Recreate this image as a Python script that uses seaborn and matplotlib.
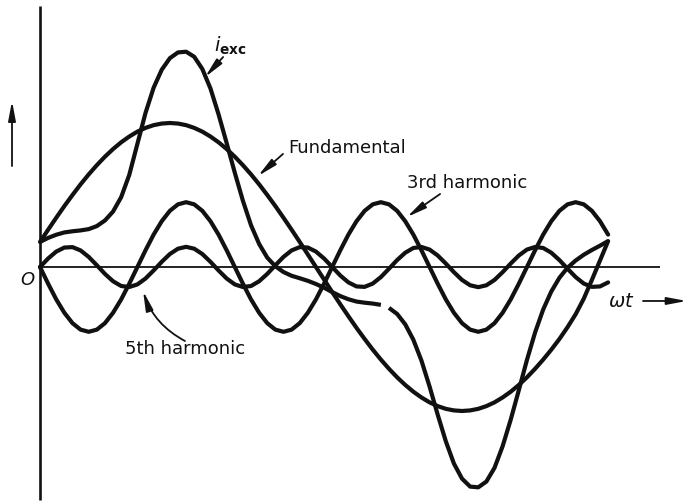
import matplotlib
matplotlib.use("Agg")
import matplotlib.pyplot as plt
import seaborn as sns
import pandas as pd

# Electrical angle wt (degrees) at which each waveform is tabulated
THETA = list(range(0, 355, 5))

# Instantaneous values, in per cent of the fundamental's peak
IEXC = [17.4, 20.2, 22.4, 24.0, 24.8, 25.4, 26.3, 28.4, 32.3, 38.5,
        48.5, 64.0, 85.5, 107.0, 124.5, 137.0, 145.0, 149.0, 149.5, 146.0,
        137.5, 124.0, 106.0, 86.0, 65.5, 46.0, 29.0, 16.0, 6.5, 0.5,
        -3.5, -6.1, -7.8, -9.6, -11.8, -14.4, -17.4, -20.2, -22.4, -24.0,
        -24.8, -25.4, -26.3, -28.4, -32.6, -39.8, -50.5, -65.0, -83.0, -102.5,
        -121.0, -136.5, -147.0, -152.5, -153.0, -149.0, -139.5, -124.5, -106.0, -85.5,
        -64.5, -45.5, -29.5, -17.0, -7.5, -0.5, 4.5, 8.5, 11.8, 14.8,
        18.0]

FUNDAMENTAL = [17.4, 25.9, 34.2, 42.3, 50.0, 57.4, 64.3, 70.7, 76.6, 81.9,
               86.6, 90.6, 94.0, 96.6, 98.5, 99.6, 100.0, 99.6, 98.5, 96.6,
               94.0, 90.6, 86.6, 81.9, 76.6, 70.7, 64.3, 57.4, 50.0, 42.3,
               34.2, 25.9, 17.4, 8.7, 0.0, -8.7, -17.4, -25.9, -34.2, -42.3,
               -50.0, -57.4, -64.3, -70.7, -76.6, -81.9, -86.6, -90.6, -94.0, -96.6,
               -98.5, -99.6, -100.0, -99.6, -98.5, -96.6, -94.0, -90.6, -86.6, -81.9,
               -76.6, -70.7, -64.3, -57.4, -50.0, -41.8, -32.8, -22.0, -9.0, 4.5,
               18.0]

THIRD = [0, -11.6, -22.5, -31.8, -39.0, -43.5, -45.0, -43.5, -39.0, -31.8, -22.5, -11.6,
         0, 11.6, 22.5, 31.8, 39.0, 43.5, 45.0, 43.5, 39.0, 31.8, 22.5, 11.6,
         0, -11.6, -22.5, -31.8, -39.0, -43.5, -45.0, -43.5, -39.0, -31.8, -22.5, -11.6,
         0, 11.6, 22.5, 31.8, 39.0, 43.5, 45.0, 43.5, 39.0, 31.8, 22.5, 11.6,
         0, -11.6, -22.5, -31.8, -39.0, -43.5, -45.0, -43.5, -39.0, -31.8, -22.5, -11.6,
         0, 11.6, 22.5, 31.8, 39.0, 43.5, 45.0, 43.5, 39.0, 31.8, 22.5]

FIFTH = [0, 5.9, 10.7, 13.5, 13.8, 11.5, 7.0, 1.2, -4.8, -9.9, -13.2, -13.9, -12.1, -8.0, -2.4,
         3.6, 9.0, 12.7, 14.0, 12.7, 9.0, 3.6, -2.4, -8.0, -12.1, -13.9, -13.2, -9.9, -4.8,
         1.2, 7.0, 11.5, 13.8, 13.5, 10.7, 5.9, 0, -5.9, -10.7, -13.5, -13.8, -11.5, -7.0, -1.2,
         4.8, 9.9, 13.2, 13.9, 12.1, 8.0, 2.4, -3.6, -9.0, -12.7, -14.0, -12.7, -9.0, -3.6,
         2.4, 8.0, 12.1, 13.9, 13.2, 9.9, 4.8, -1.2, -7.0, -11.5, -13.8, -13.5, -10.7]

# The i_exc trace is drawn with a short break between these angles
IEXC_BREAK = (210, 215)

sns.set_theme(style="white")
plt.rcParams["font.family"] = ["DejaVu Sans"]

INK = "#111111"
CURVE_LW = 3.0

fig = plt.figure(figsize=(6.87, 5.02), dpi=100)
ax = fig.add_axes([0, 0, 1, 1])
ax.set_xlim(-24.65, 398.6)
ax.set_ylim(-162.5, 186.1)

df = pd.DataFrame({"theta": THETA, "iexc": IEXC, "fund": FUNDAMENTAL,
                   "third": THIRD, "fifth": FIFTH})

# coordinate axes
ax.plot([0, 0], [181.5, -161.5], color=INK, lw=1.9, solid_capstyle="butt")
ax.plot([0, 382], [0, 0], color=INK, lw=1.3, solid_capstyle="butt")

for col in ["fund", "third", "fifth"]:
    sns.lineplot(data=df, x="theta", y=col, ax=ax, color=INK, lw=CURVE_LW,
                 estimator=None, sort=False, solid_capstyle="round",
                 solid_joinstyle="round")

for part in (df[df.theta <= IEXC_BREAK[0]], df[df.theta >= IEXC_BREAK[1]]):
    sns.lineplot(data=part, x="theta", y="iexc", ax=ax, color=INK,
                 lw=CURVE_LW, estimator=None, sort=False,
                 solid_capstyle="butt", solid_joinstyle="round")
ax.axis("off")

FS = 13
arrow = dict(arrowstyle="-|>,head_length=0.9,head_width=0.17", color=INK,
             lw=1.3, mutation_scale=13, shrinkA=0, shrinkB=0)

# labels with leader arrows
ax.text(117.5, 154, r"$i_{\mathbf{exc}}$", fontsize=FS + 1, color=INK,
        ha="center", va="center")
ax.annotate("", xy=(101.7, 131.9), xytext=(112.8, 145.8), arrowprops=arrow)

ax.text(152.8, 83.3, "Fundamental", fontsize=FS, color=INK,
        ha="left", va="center")
ax.annotate("", xy=(134.3, 63.2), xytext=(149.7, 78.5), arrowprops=arrow)

ax.text(226.1, 59.0, "3rd harmonic", fontsize=FS, color=INK,
        ha="left", va="center")
ax.annotate("", xy=(226.1, 34.7), xytext=(246.5, 50.7), arrowprops=arrow)

ax.text(52.4, -56.3, "5th harmonic", fontsize=FS, color=INK,
        ha="left", va="center")
ax.annotate("", xy=(63.5, -16.7), xytext=(89.3, -51.4),
            arrowprops=dict(arrow, connectionstyle="arc3,rad=-0.2"))

ax.text(350, -23.6, r"$\omega t$", fontsize=FS + 1, color=INK,
        ha="left", va="center")
ax.annotate("", xy=(398.4, -23.6), xytext=(371.5, -23.6), arrowprops=arrow)

ax.text(-8, -8.3, "O", fontsize=FS, style="italic", color=INK,
        ha="center", va="center")
ax.annotate("", xy=(-17.25, 115.3), xytext=(-17.25, 70.1), arrowprops=arrow)

fig.savefig("out.png", dpi=100, facecolor="white")
